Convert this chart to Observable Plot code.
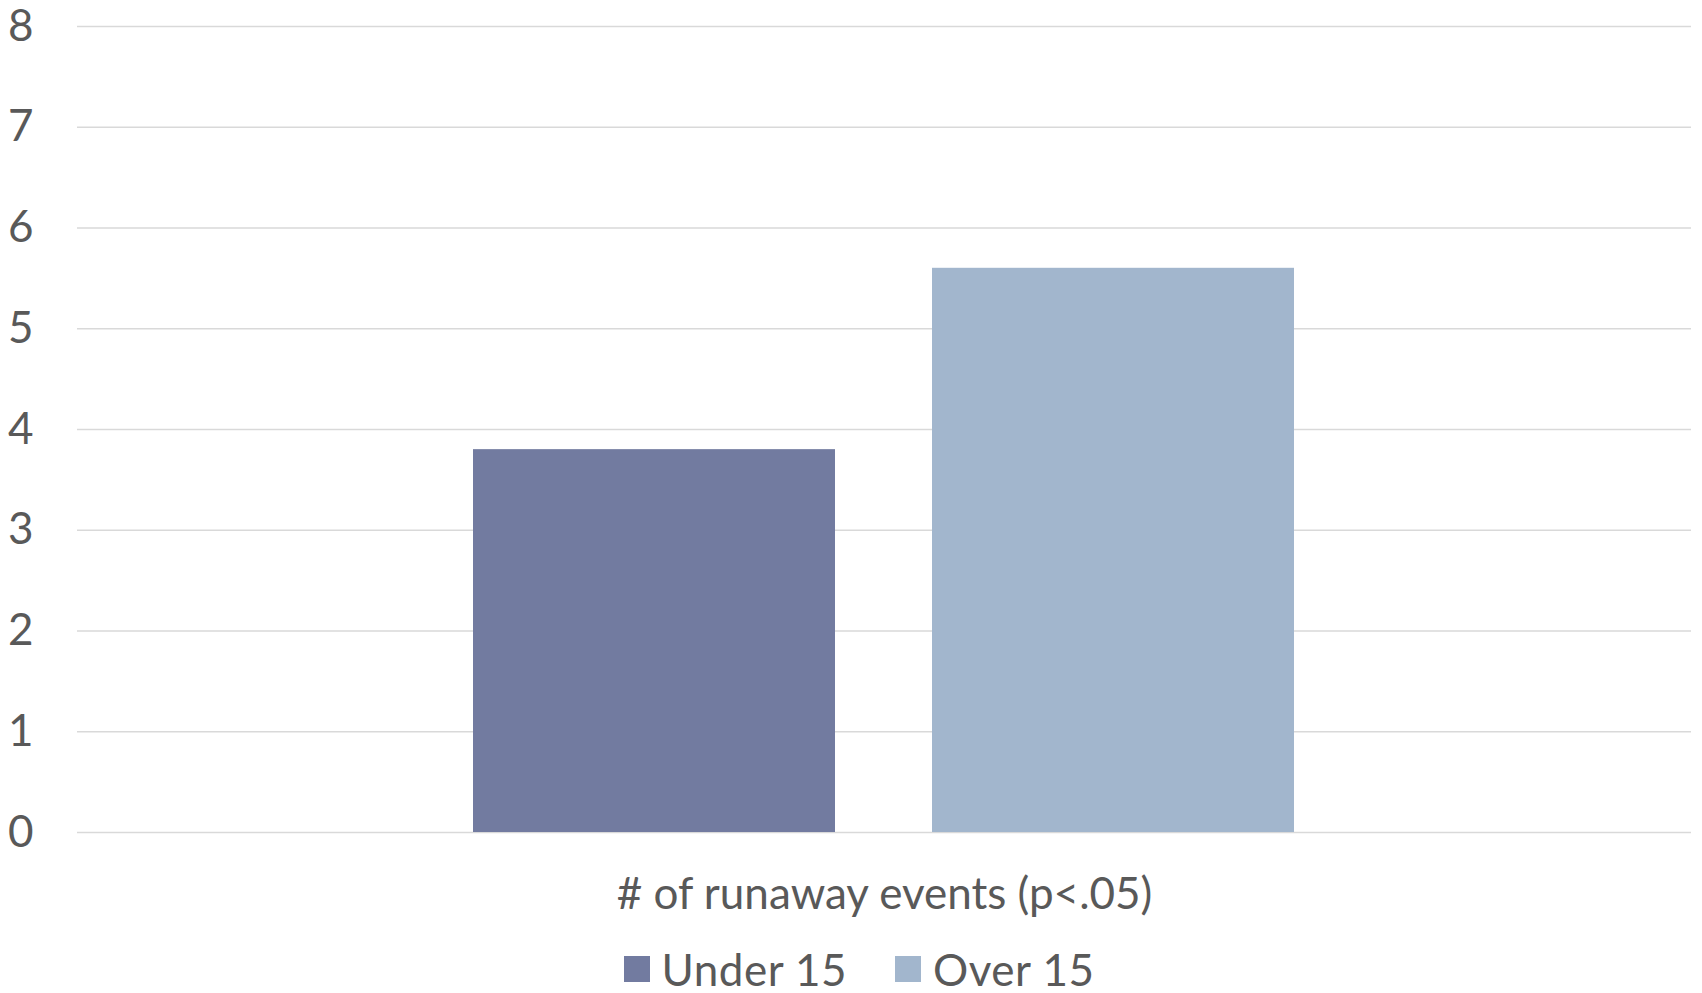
<!DOCTYPE html>
<html>
<head>
<meta charset="utf-8">
<script src="https://cdn.jsdelivr.net/npm/d3@7"></script>
<script src="https://cdn.jsdelivr.net/npm/@observablehq/plot@0.6"></script>
<style>
  html, body { margin: 0; padding: 0; background: #fff; }
  body { width: 1702px; height: 993px; overflow: hidden; font-family: Lato, "Open Sans", sans-serif; color: #595959; }
  #legend { display: flex; justify-content: center; align-items: center; font-size: 44px; line-height: 1; margin-top: 12px; padding-left: 16px; letter-spacing: 0.5px; }
  .item { display: flex; align-items: center; margin: 0 24px; }
  .sw { width: 26px; height: 26px; margin-right: 12px; }
</style>
</head>
<body>
<div id="chart"></div>
<div id="legend"></div>
<script>
const categories = ["# of runaway events (p<.05)"];
const groups = ["Under 15", "Over 15"];
const values = [3.8, 5.6];
const colors = ["#727BA0", "#A2B6CD"];
const yTicks = [0, 1, 2, 3, 4, 5, 6, 7, 8];

const data = groups.map((g, i) => ({category: categories[0], group: g, value: values[i]}));

const chart = Plot.plot({
  width: 1702,
  height: 935,
  marginLeft: 77,
  marginRight: 11,
  marginTop: 26,
  marginBottom: 103,
  style: {fontFamily: "Lato, 'Open Sans', sans-serif", color: "#595959", background: "#fff"},
  fx: {domain: categories, padding: 0, label: null, axis: null},
  x: {domain: groups, axis: null, paddingInner: 0.211, paddingOuter: 0.86},
  y: {domain: [0, 8], label: null},
  color: {domain: groups, range: colors},
  marks: [
    Plot.gridY(yTicks, {stroke: "#D9D9D9", strokeOpacity: 1, strokeWidth: 1.5}),
    Plot.barY(data, {fx: "category", x: "group", y: "value", fill: "group"}),
    Plot.axisY(yTicks, {tickSize: 0, tickPadding: 44, fontSize: 44, fill: "#595959", label: null, tickFormat: d => String(d)}),
    Plot.text(categories, {fx: d => d, frameAnchor: "bottom", lineAnchor: "top", dy: 45, fontSize: 44, fill: "#595959", text: d => d})
  ]
});
document.getElementById("chart").appendChild(chart);

const legend = document.getElementById("legend");
groups.forEach((g, i) => {
  const item = document.createElement("div");
  item.className = "item";
  const sw = document.createElement("div");
  sw.className = "sw";
  sw.style.background = colors[i];
  const label = document.createElement("span");
  label.textContent = g;
  item.appendChild(sw);
  item.appendChild(label);
  legend.appendChild(item);
});
</script>
</body>
</html>
